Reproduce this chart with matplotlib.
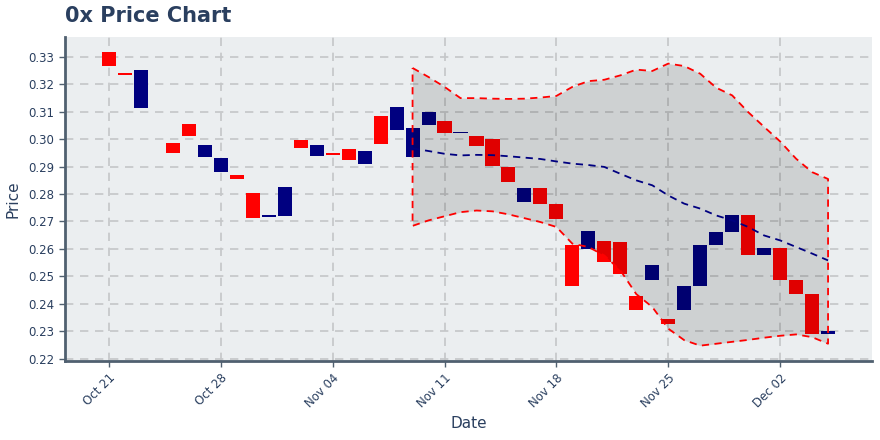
import numpy as np
import pandas as pd
import matplotlib
matplotlib.use("Agg")
import matplotlib.pyplot as plt
import matplotlib.dates as mdates

# daily open / close (Oct 21 .. Dec 5), NaN = no candle
dates = pd.date_range("2019-10-21", "2019-12-05", freq="D")
opens = [0.3317, 0.3242, 0.3114, np.nan, 0.2985, 0.3055, 0.2935, 0.2880,
         0.2868, 0.2803, 0.2716, 0.2720, 0.2996, 0.2939, 0.2948, 0.2963,
         0.2909, 0.3084, 0.3034, 0.2935, 0.3052, 0.3065, 0.3022, 0.3011,
         0.3000, 0.2897, 0.2771, 0.2821, 0.2762, 0.2613, 0.2600, 0.2627,
         0.2624, 0.2427, 0.2486, 0.2346, 0.2377, 0.2464, 0.2614, 0.2661,
         0.2722, 0.2577, 0.2602, 0.2485, 0.2434, 0.2289]
closes = [0.3267, 0.3235, 0.3251, np.nan, 0.2950, 0.3012, 0.2978, 0.2930,
          0.2854, 0.2712, 0.2722, 0.2825, 0.2968, 0.2978, 0.2941, 0.2924,
          0.2956, 0.2982, 0.3116, 0.3040, 0.3098, 0.3022, 0.3026, 0.2975,
          0.2902, 0.2844, 0.2821, 0.2764, 0.2709, 0.2464, 0.2667, 0.2552,
          0.2508, 0.2376, 0.2543, 0.2326, 0.2463, 0.2613, 0.2660, 0.2722,
          0.2577, 0.2602, 0.2486, 0.2435, 0.2289, 0.2302]

# bollinger band (Nov 9 .. Dec 5)
band_dates = pd.date_range("2019-11-09", "2019-12-05", freq="D")
upper = [0.3260, 0.3227, 0.3191, 0.3150, 0.3150, 0.3148, 0.3147, 0.3148,
         0.3152, 0.3158, 0.3191, 0.3212, 0.3217, 0.3233, 0.3254, 0.3249,
         0.3276, 0.3267, 0.3239, 0.3188, 0.3160, 0.3099, 0.3045, 0.2992,
         0.2929, 0.2880, 0.2855]
middle = [0.2967, 0.2957, 0.2947, 0.2941, 0.2943, 0.2942, 0.2938, 0.2933,
          0.2928, 0.2919, 0.2911, 0.2906, 0.2899, 0.2874, 0.2850, 0.2832,
          0.2795, 0.2765, 0.2747, 0.2722, 0.2704, 0.2680, 0.2649, 0.2631,
          0.2607, 0.2583, 0.2558]
lower = [0.2684, 0.2704, 0.2719, 0.2734, 0.2740, 0.2737, 0.2726, 0.2712,
         0.2698, 0.2680, 0.2619, 0.2607, 0.2576, 0.2522, 0.2435, 0.2388,
         0.2309, 0.2267, 0.2247, 0.2254, 0.2261, 0.2268, 0.2276, 0.2283,
         0.2288, 0.2278, 0.2254]

opens = np.array(opens)
closes = np.array(closes)
text_col = "#2a3f5f"
axis_col = "#506070"

fig = plt.figure(figsize=(8.8, 4.4), dpi=100)
ax = fig.add_axes([65/880, 1-361/440, (872-65)/880, (361-37)/440])
ax.set_facecolor("#ebeef0")

#candles
colors = np.where(closes >= opens, "#000080", "#ff0000")
low = np.minimum(opens, closes)
height = np.abs(closes - opens)
height = np.maximum(height, 0.0005)
ax.bar(dates, height, bottom=low, width=0.88, color=colors, zorder=2)

#band
ax.fill_between(band_dates, lower, upper, color="black", alpha=0.12,
                linewidth=0, zorder=3)
bx = list(band_dates) + list(band_dates[::-1]) + [band_dates[0]]
by = list(upper) + list(lower[::-1]) + [upper[0]]
ax.plot(bx, by, color="#ff0000", lw=1.3, ls=(0, (4, 3)), zorder=4)
ax.plot(band_dates, middle, color="#000080", lw=1.3, ls=(0, (4, 3)), zorder=4)

ax.set_xlim(pd.Timestamp("2019-10-18 06:00"), pd.Timestamp("2019-12-07 18:00"))
ax.set_ylim(0.2191, 0.3373)
ax.set_yticks(np.arange(0.22, 0.335, 0.01))
ax.yaxis.set_major_formatter(matplotlib.ticker.FormatStrFormatter("%.2f"))
ax.xaxis.set_major_locator(mdates.WeekdayLocator(byweekday=mdates.MO))
ax.xaxis.set_major_formatter(mdates.DateFormatter("%b %d"))
plt.setp(ax.get_xticklabels(), rotation=45, ha="right", rotation_mode="anchor")

ax.grid(True, color="#c4c6c8", ls=(0, (5, 4)), lw=1.2, zorder=0)
ax.set_axisbelow(True)
for s in ["top", "right"]:
    ax.spines[s].set_visible(False)
for s in ["left", "bottom"]:
    ax.spines[s].set_color(axis_col)
    ax.spines[s].set_linewidth(2)
ax.tick_params(colors=axis_col, labelcolor=text_col, labelsize=8.5, length=4, width=1)

ax.set_xlabel("Date", color=text_col, fontsize=11, labelpad=4)
ax.set_ylabel("Price", color=text_col, fontsize=11, labelpad=6)
fig.text(65/880, 1-16/440, "0x Price Chart", color=text_col, fontsize=15,
         fontweight="bold", va="center", ha="left")

fig.savefig("out.png", dpi=100)
